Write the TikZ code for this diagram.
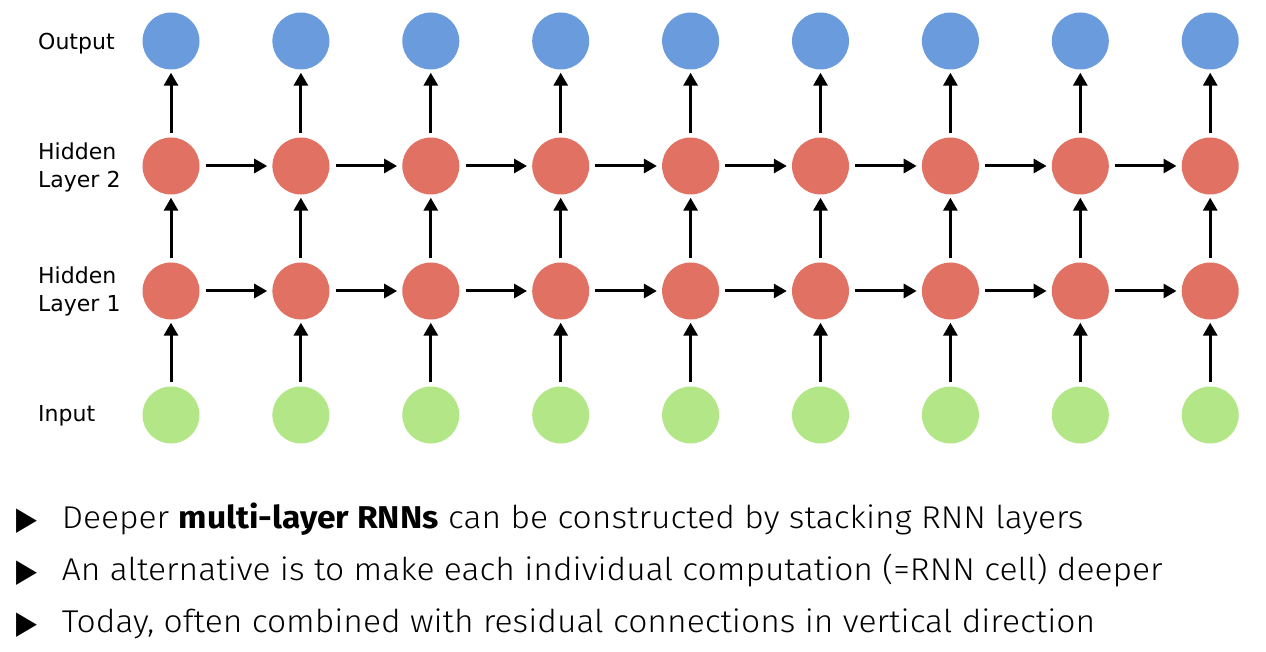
\documentclass[tikz,border=0pt]{standalone}
\usepackage{fontspec}
\setmainfont{DejaVu Sans}
\newfontfamily\bulfont{Fira Sans Light}[BoldFont={Fira Sans Bold}, FakeStretch=1.067]
\newfontfamily\symfont{DejaVu Sans}
\usetikzlibrary{arrows.meta}
\definecolor{outc}{HTML}{6A9BDC}
\definecolor{hidc}{HTML}{E07163}
\definecolor{inc}{HTML}{B3E686}
\tikzset{
  cell/.style={circle, minimum size=57pt, inner sep=0pt, draw=none},
  outn/.style={cell, fill=outc},
  hidn/.style={cell, fill=hidc},
  inn/.style={cell, fill=inc},
  conn/.style={line width=3pt, -{Triangle[length=13pt,width=14pt]}},
  varr/.style={conn, shorten <=4pt, shorten >=3pt},
  harr/.style={conn, shorten <=6pt, shorten >=5pt},
  lab/.style={anchor=west, inner sep=0pt, align=left, font=\fontsize{22}{28}\selectfont},
  bullet/.style={anchor=base west, inner sep=0pt, font=\symfont\fontsize{32}{32}\selectfont},
  btext/.style={anchor=base west, inner sep=0pt, font=\bulfont\fontsize{31.5}{36}\selectfont}
}
\begin{document}
\begin{tikzpicture}[x=1pt,y=-1pt]
\useasboundingbox[fill=white] (0,0) rectangle (1266,652);
\foreach \i in {0,...,8} {
  \pgfmathsetmacro\xx{171+129.9*\i}
  \node[outn] (o\i) at (\xx,41) {};
  \node[hidn] (hb\i) at (\xx,166) {};
  \node[hidn] (ha\i) at (\xx,291) {};
  \node[inn] (in\i) at (\xx,415) {};
}
\foreach \i in {0,...,8} {
  \draw[varr] (in\i) -- (ha\i);
  \draw[varr] (ha\i) -- (hb\i);
  \draw[varr] (hb\i) -- (o\i);
}
\foreach \i [evaluate=\i as \j using int(\i+1)] in {0,...,7} {
  \draw[harr] (ha\i) -- (ha\j);
  \draw[harr] (hb\i) -- (hb\j);
}
\node[lab] (lo) at (38,43.5) {Output};
\node[lab] (lh2) at (38,167.5) {Hidden\\Layer 2};
\node[lab] (lh1) at (38,291) {Hidden\\Layer 1};
\node[lab] (li) at (38,416) {Input};
\node[bullet] (b1) at (16.5,529) {\scalebox{0.85}[1]{▶}};
\node[bullet] (b2) at (16.5,581) {\scalebox{0.85}[1]{▶}};
\node[bullet] (b3) at (16.5,633) {\scalebox{0.85}[1]{▶}};
\node[btext] (t1) at (61.7,528) {Deeper \textbf{multi-layer RNNs} can be constructed by stacking RNN layers};
\node[btext] (t2) at (61.7,580) {An alternative is to make each individual computation (=RNN cell) deeper};
\node[btext] (t3) at (61.7,632) {Today, often combined with residual connections in vertical direction};
\end{tikzpicture}
\end{document}
